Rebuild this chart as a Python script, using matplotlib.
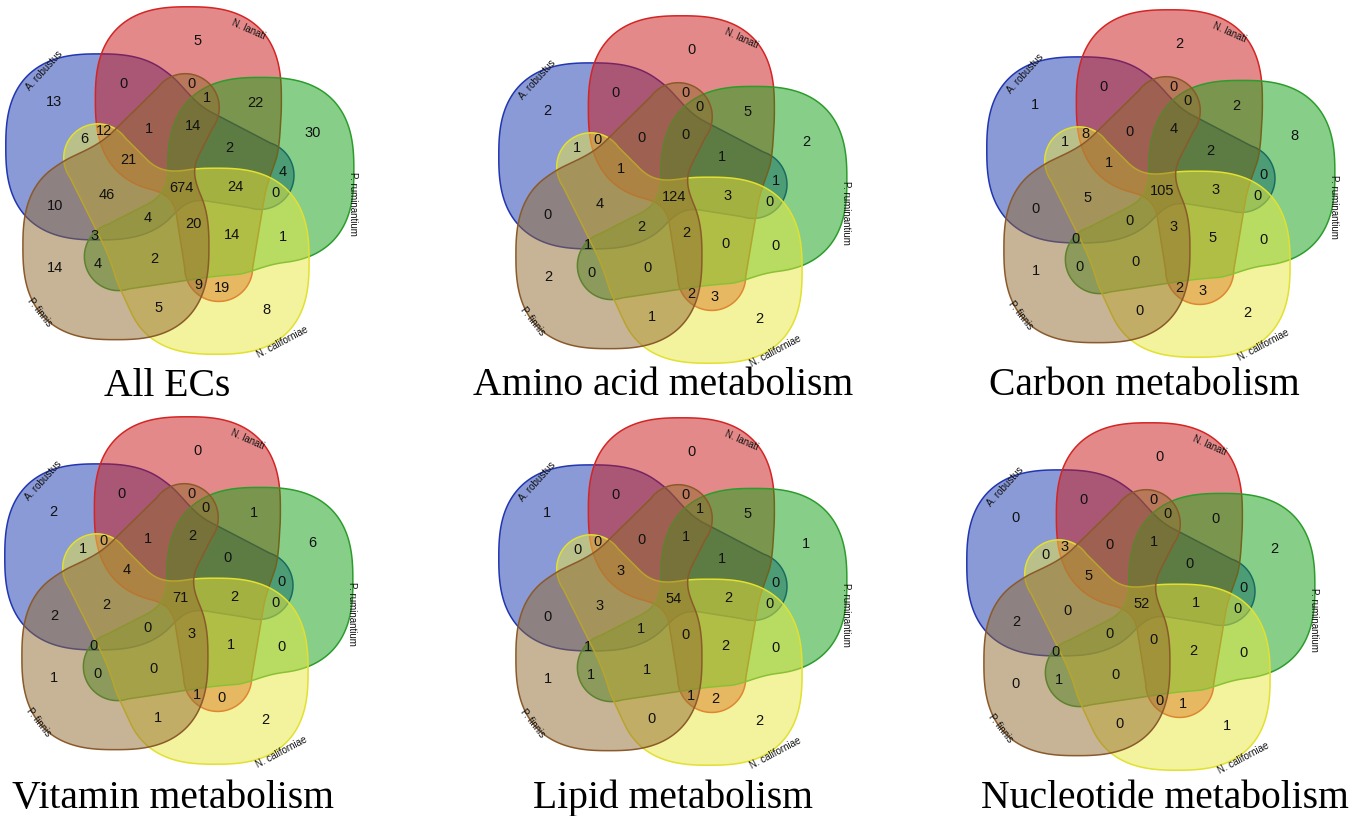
import numpy as np
import matplotlib
matplotlib.use("Agg")
import matplotlib.pyplot as plt
from matplotlib.path import Path
from matplotlib.patches import PathPatch
from matplotlib.colors import to_rgba
from contourpy import contour_generator

# five sets, listed clockwise round the diagram
set_names = ["A. robustus", "N. lanati", "P. ruminantium", "N. californiae", "P. finnis"]
set_letters = ["A", "B", "C", "D", "E"]

# region = letters of the sets it belongs to
region_keys = ["A", "B", "C", "D", "E",
               "AB", "BC", "CD", "DE", "AE",
               "BE", "AC", "BD", "CE", "AD",
               "ABC", "BCD", "CDE", "ADE", "ABE",
               "BCE", "ACD", "BDE", "ACE", "ABD",
               "ABCE", "ABCD", "BCDE", "ACDE", "ABDE",
               "ABCDE"]

titles = ["All ECs", "Amino acid metabolism", "Carbon metabolism",
          "Vitamin metabolism", "Lipid metabolism", "Nucleotide metabolism"]

all_ecs = [13, 5, 30, 8, 14, 0, 22, 1, 5, 10, 0, 4, 19, 4, 6,
           2, 14, 2, 46, 1, 1, 0, 9, 3, 12, 14, 24, 20, 4, 21, 674]
amino_acid = [2, 0, 2, 2, 2, 0, 5, 0, 1, 0, 0, 1, 3, 0, 1,
              1, 0, 0, 4, 0, 0, 0, 2, 1, 0, 0, 3, 2, 2, 1, 124]
carbon = [1, 2, 8, 2, 1, 0, 2, 0, 0, 0, 0, 0, 3, 0, 1,
          2, 5, 0, 5, 0, 0, 0, 2, 0, 8, 4, 3, 3, 0, 1, 105]
vitamin = [2, 0, 6, 2, 1, 0, 1, 0, 1, 2, 0, 0, 0, 0, 1,
           0, 1, 0, 2, 1, 0, 0, 1, 0, 0, 2, 2, 3, 0, 4, 71]
lipid = [1, 0, 1, 2, 1, 0, 5, 0, 0, 0, 0, 0, 2, 1, 0,
         1, 2, 1, 3, 0, 1, 0, 1, 1, 0, 1, 2, 0, 1, 3, 54]
nucleotide = [0, 0, 2, 1, 0, 0, 0, 0, 0, 2, 0, 0, 1, 1, 0,
              0, 2, 0, 0, 0, 0, 0, 0, 0, 3, 1, 1, 0, 0, 5, 52]
panel_values = [all_ecs, amino_acid, carbon, vitamin, lipid, nucleotide]

# styling
fill_colors = ["#1537B1", "#CB1515", "#11A115", "#E9E73D", "#91692F"]
edge_colors = ["#2236B0", "#D42525", "#2C9C2C", "#E2E030", "#8A5A2A"]
name_style = [(139, 174, 48), (65, 172, -24), (-6, 178, -90), (-56, 190, 28), (-137, 186, -52)]

W, H = 1353, 816
centers = [(176, 185), (669, 194), (1157, 188), (175, 595), (669, 596), (1137, 601)]
title_pos = [(167, 396), (663, 395), (1144, 395), (173, 808), (673, 808), (1165, 808)]

# one set = upright rounded lobe + arm, given for N. californiae,
# the other sets turn these points round the middle
lobe_c, lobe_half, lobe_pow = (44, -74), 93, 2.6
arm_tip, arm_base, tip_r, base_r = (-80, 31), (-11, -55), 34, 52
arm_drop = 8
blend = 22
spin = -3


def turn(pt, deg):
    a = np.radians(deg)
    return (pt[0] * np.cos(a) - pt[1] * np.sin(a), pt[0] * np.sin(a) + pt[1] * np.cos(a))


def set_outline(deg):
    cx, cy = turn(lobe_c, deg)
    tx, ty = turn(arm_tip, deg)
    bx, by = turn(arm_base, deg)
    ty, by = ty - arm_drop, by - arm_drop
    xs = np.arange(-230, 231, 1.0)
    X, Y = np.meshgrid(xs, xs)
    d_lobe = lobe_half * ((np.abs(X - cx) / lobe_half) ** lobe_pow
                          + (np.abs(Y - cy) / lobe_half) ** lobe_pow) ** (1 / lobe_pow) - lobe_half
    dx, dy = bx - tx, by - ty
    t = np.clip(((X - tx) * dx + (Y - ty) * dy) / (dx * dx + dy * dy), 0, 1)
    d_arm = np.hypot(X - tx - t * dx, Y - ty - t * dy) - (tip_r + t * (base_r - tip_r))
    h = np.clip(0.5 + 0.5 * (d_arm - d_lobe) / blend, 0, 1)
    f = d_arm * (1 - h) + d_lobe * h - blend * h * (1 - h)
    lines = contour_generator(x=xs, y=xs, z=f).lines(0.0)
    return Path(max(lines, key=len))


paths = [set_outline((3 - i) * 72 + spin) for i in range(5)]

# label spots: deepest point of every region
g = np.arange(-200, 201)
gx, gy = np.meshgrid(g, g)
pts = np.column_stack([gx.ravel(), gy.ravel()])
member = np.array([p.contains_points(pts).reshape(gx.shape) for p in paths])


def deepest(mask):
    m = mask.copy()
    last = m
    step = 0
    while m.any():
        last = m
        if step % 2 == 0:
            m = m & np.roll(m, 1, 0) & np.roll(m, -1, 0) & np.roll(m, 1, 1) & np.roll(m, -1, 1)
        else:
            m = m & np.roll(np.roll(m, 1, 0), 1, 1) & np.roll(np.roll(m, -1, 0), -1, 1) \
                & np.roll(np.roll(m, 1, 0), -1, 1) & np.roll(np.roll(m, -1, 0), 1, 1)
        step += 1
    ys, xs = np.nonzero(last)
    mx, my = gx[ys, xs].mean(), gy[ys, xs].mean()
    k = np.argmin((gx[ys, xs] - mx) ** 2 + (gy[ys, xs] - my) ** 2)
    return gx[ys[k], xs[k]], gy[ys[k], xs[k]]


label_xy = {}
missing = []
for key in region_keys:
    mask = np.ones(gx.shape, bool)
    for i, letter in enumerate(set_letters):
        mask &= member[i] if letter in key else ~member[i]
    if mask.any():
        label_xy[key] = deepest(mask)
    else:
        missing.append(key)
        label_xy[key] = (0, 0)

fig = plt.figure(figsize=(W / 100, H / 100), dpi=100)

for vals, title, (cx, cy), (tx, ty) in zip(panel_values, titles, centers, title_pos):
    ax = fig.add_axes([(cx - 200) / W, 1 - (cy + 200) / H, 400 / W, 400 / H])
    ax.set_xlim(-200, 200)
    ax.set_ylim(-200, 200)
    ax.axis("off")
    for i in range(5):
        ax.add_patch(PathPatch(paths[i], facecolor=to_rgba(fill_colors[i], 0.5),
                               edgecolor=edge_colors[i], lw=1.1))
    for key, v in zip(region_keys, vals):
        x, y = label_xy[key]
        ax.text(x, y, str(v), ha="center", va="center", fontsize=10.5,
                family="Liberation Sans", color="#111111")
    for name, (ang, r, rot) in zip(set_names, name_style):
        a = np.radians(ang)
        ax.text(r * np.cos(a), r * np.sin(a), name, rotation=rot, rotation_mode="anchor",
                ha="center", va="center", fontsize=7, family="Liberation Sans", color="#111111")
    fig.text(tx / W, 1 - ty / H, title, ha="center", va="baseline", fontsize=28.5,
             family="Liberation Serif")

if missing:
    fig.text(0.5, 0.5, "MISSING " + " ".join(missing), color="red", fontsize=30, ha="center")

fig.savefig("out.png", dpi=100)
